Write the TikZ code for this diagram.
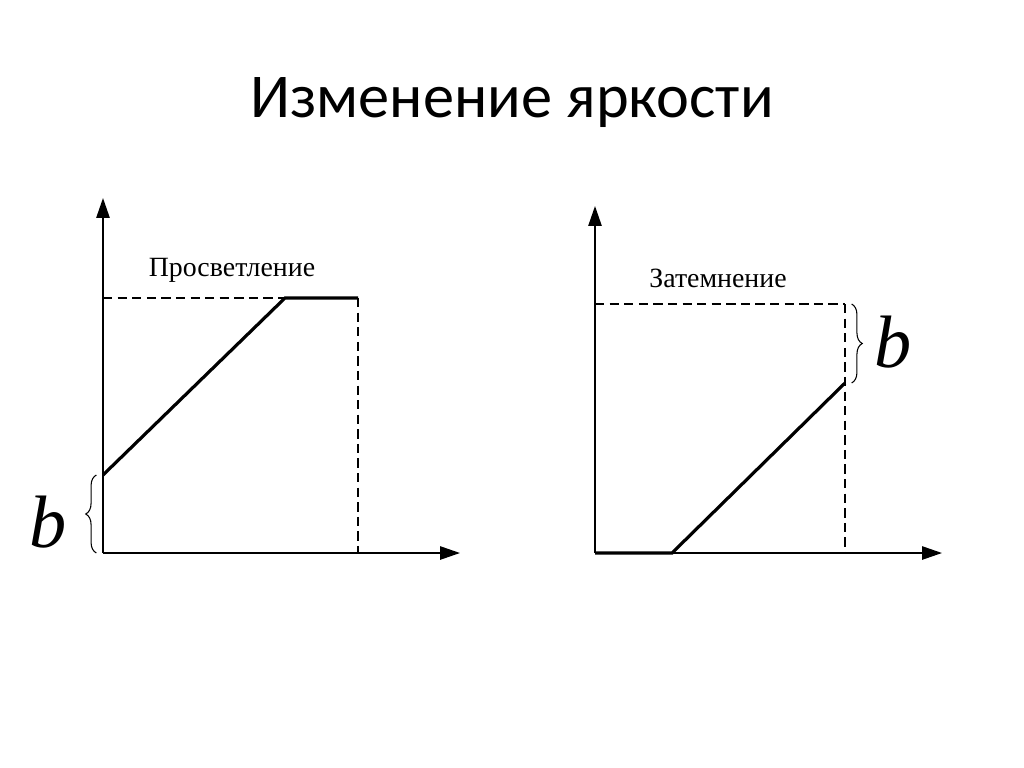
\documentclass[tikz,border=0pt]{standalone}
\usepackage{fontspec}
\setmainfont{Liberation Serif}
\newfontfamily\titlefont{Carlito}
\usetikzlibrary{arrows.meta,decorations.pathreplacing}
\begin{document}
\begin{tikzpicture}[x=0.0265cm,y=-0.0265cm,
  axis/.style={line width=1.3pt,-{Triangle[length=15pt,width=10pt]}},
  curve/.style={line width=2.4pt},
  guide/.style={line width=0.8pt,dash pattern=on 7pt off 4pt},
  brc/.style={line width=0.8pt,decorate,decoration={brace,amplitude=8pt}},
  lbl/.style={font=\fontsize{21}{24}\selectfont},
  bl/.style={font=\fontsize{56}{60}\selectfont\itshape}]
\useasboundingbox (0,0) rectangle (1024,767);
\node[font=\titlefont\fontsize{47}{50}\selectfont] (title) at (512,103) {Изменение яркости};
% left chart
\coordinate (O1) at (103,553);
\coordinate (Y1) at (103,198);
\coordinate (X1) at (460,553);
\coordinate (A1) at (103,475);
\coordinate (B1) at (285,298);
\coordinate (C1) at (358,298);
\coordinate (D1) at (103,298);
\coordinate (E1) at (358,553);
\draw[axis] (O1) -- (Y1);
\draw[axis] (O1) -- (X1);
\draw[guide] (D1) -- (B1);
\draw[guide] (C1) -- (E1);
\draw[curve] (A1) -- (B1) -- (C1);
\draw[brc] ([xshift=-5]O1) -- ([xshift=-5]A1);
\node[bl] (b1) at (48,522) {b};
\node[lbl] (l1) at (232,270) {Просветление};
% right chart
\coordinate (O2) at (595,553);
\coordinate (Y2) at (595,206);
\coordinate (X2) at (942,553);
\coordinate (A2) at (672,553);
\coordinate (B2) at (845,383);
\coordinate (D2) at (595,304);
\coordinate (C2) at (845,304);
\coordinate (E2) at (845,553);
\draw[axis] (O2) -- (Y2);
\draw[axis] (O2) -- (X2);
\draw[guide] (D2) -- (C2);
\draw[guide] (C2) -- (E2);
\draw[curve] (O2) -- (A2) -- (B2);
\draw[brc] ([xshift=5]C2) -- ([xshift=5]B2);
\node[bl] (b2) at (893,342) {b};
\node[lbl] (l2) at (718,278) {Затемнение};
\end{tikzpicture}
\end{document}
